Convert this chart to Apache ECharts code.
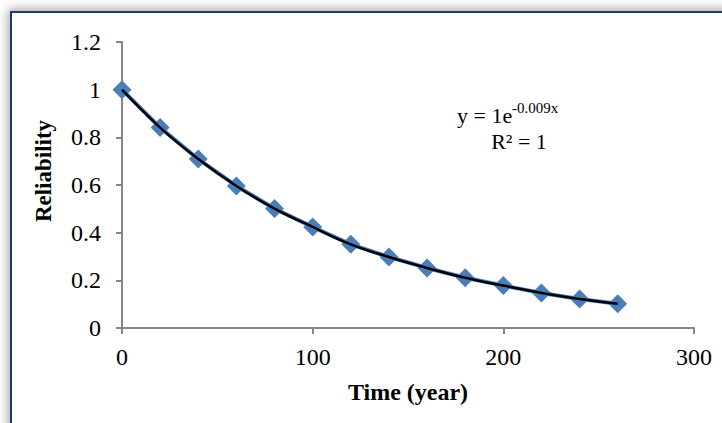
<!DOCTYPE html>
<html>
<head>
<meta charset="utf-8">
<script src="https://cdn.jsdelivr.net/npm/echarts@6/dist/echarts.min.js"></script>
<style>
  html, body { margin: 0; padding: 0; background: #fff; overflow: hidden; }
  #frame {
    position: absolute; left: 10px; top: 11px; width: 800px; height: 500px;
    border: 2px solid #1f3a73; background: #fff;
    box-shadow: -2px -2px 10px rgba(0,0,0,0.35);
  }
  #chart { position: absolute; left: 0; top: 0; width: 722px; height: 423px; }
</style>
</head>
<body>
<div id="frame"></div>
<div id="chart"></div>
<script>
// values
var years = [0, 20, 40, 60, 80, 100, 120, 140, 160, 180, 200, 220, 240, 260];
var reliability = [1.0, 0.841, 0.709, 0.596, 0.501, 0.424, 0.351, 0.298, 0.252, 0.211, 0.178, 0.147, 0.122, 0.102];
var xTicks = [0, 100, 200, 300];
var yTicks = [0, 0.2, 0.4, 0.6, 0.8, 1, 1.2];

(function() {
  var font = '"Liberation Serif", "DejaVu Serif", serif';
  var axisGray = '#868686';
  var blue = '#4a7ebb';

  var points = years.map(function(x, i) { return [x, reliability[i]]; });

  var chart = echarts.init(document.getElementById('chart'), null, { renderer: 'svg' });
  chart.setOption({
    animation: false,
    backgroundColor: 'transparent',
    grid: { left: 122, right: 28, top: 42, bottom: 95 },
    xAxis: {
      type: 'value',
      min: xTicks[0], max: xTicks[xTicks.length - 1], interval: 100,
      name: 'Time (year)',
      nameLocation: 'middle',
      nameGap: 52,
      nameTextStyle: { color: '#000', fontFamily: font, fontSize: 24, fontWeight: 'bold' },
      axisLine: { lineStyle: { color: axisGray, width: 2 } },
      axisTick: { show: true, length: 6, lineStyle: { color: axisGray, width: 2 } },
      axisLabel: { color: '#000', fontFamily: font, fontSize: 24, margin: 17 },
      splitLine: { show: false }
    },
    yAxis: {
      type: 'value',
      min: yTicks[0], max: yTicks[yTicks.length - 1], interval: 0.2,
      axisLine: { show: true, lineStyle: { color: axisGray, width: 2 } },
      axisTick: { show: true, length: 6, lineStyle: { color: axisGray, width: 2 } },
      axisLabel: { color: '#000', fontFamily: font, fontSize: 24, margin: 21,
        formatter: function(v) { return String(Math.round(v * 10) / 10); } },
      splitLine: { show: false }
    },
    series: [
      {
        name: 'Reliability',
        type: 'line',
        data: points,
        symbol: 'diamond',
        symbolSize: 19,
        lineStyle: { color: blue, width: 4 },
        itemStyle: { color: blue },
        z: 2
      },
      {
        name: 'Expon. trend',
        type: 'line',
        data: points,
        smooth: 0.4,
        showSymbol: false,
        symbol: 'none',
        lineStyle: { color: '#000', width: 2.5 },
        z: 3
      }
    ],
    graphic: [
      { type: 'text', x: 43, y: 171, rotation: Math.PI / 2,
        style: { text: 'Reliability', font: 'bold 23px ' + font, fill: '#000',
          align: 'center', verticalAlign: 'middle' } },
      { type: 'text', x: 457, y: 115,
        style: { text: 'y = 1e', font: '22px ' + font, fill: '#000',
          align: 'left', verticalAlign: 'middle' } },
      { type: 'text', x: 512, y: 108,
        style: { text: '-0.009x', font: '15px ' + font, fill: '#000',
          align: 'left', verticalAlign: 'middle' } },
      { type: 'text', x: 519, y: 141,
        style: { text: 'R\u00b2 = 1', font: '22px ' + font, fill: '#000',
          align: 'center', verticalAlign: 'middle' } }
    ]
  });
})();
</script>
</body>
</html>
